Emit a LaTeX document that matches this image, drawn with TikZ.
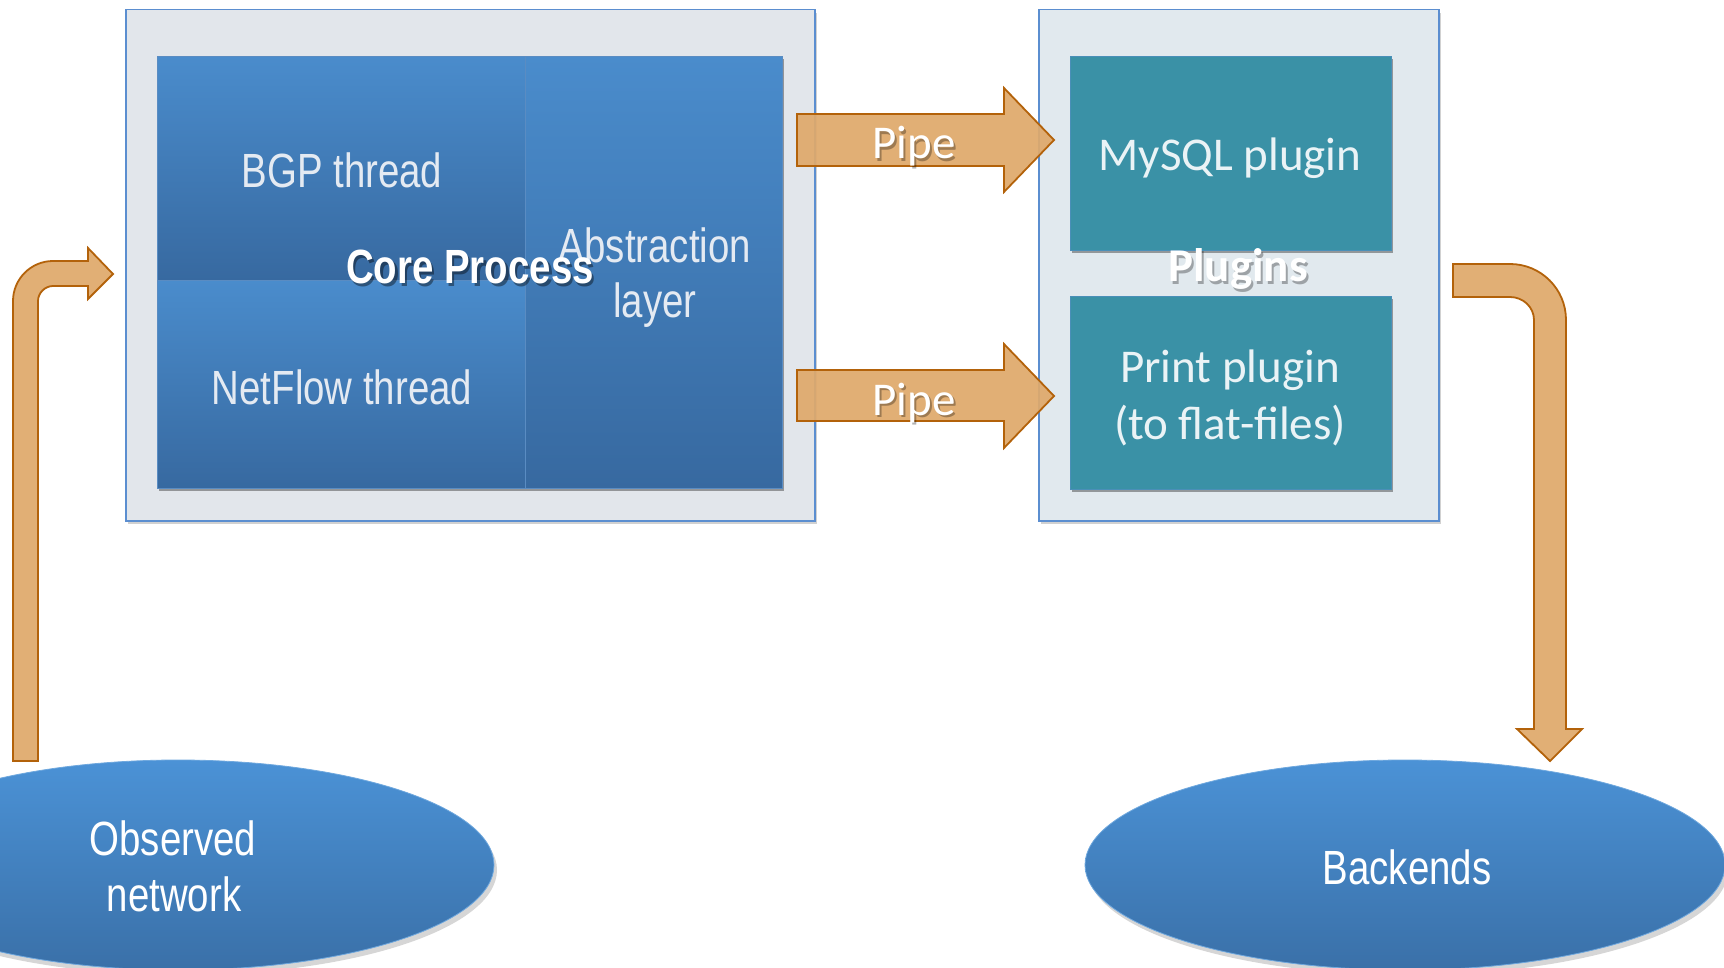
\documentclass[tikz,border=0pt]{standalone}
\usepackage{fontspec}
\setmainfont{Liberation Sans}
\newfontfamily\narrowfont[FakeStretch=0.80]{Liberation Sans}
\newfontfamily\califont{Carlito}
\usetikzlibrary{shapes.geometric,shadows}
\definecolor{coreBg}{HTML}{E2E6EB}
\definecolor{plugBg}{HTML}{E1E9EE}
\definecolor{boxLine}{HTML}{5B8ED0}
\definecolor{cellTop}{HTML}{4A8CCC}
\definecolor{cellBot}{HTML}{3769A0}
\definecolor{cellLine}{HTML}{5A8CC2}
\definecolor{tealFill}{HTML}{3A91A6}
\definecolor{tealLine}{HTML}{4A8FB8}
\definecolor{arrowFill}{HTML}{DFA96B}
\definecolor{arrowLine}{HTML}{B3620A}
\definecolor{ellTop}{HTML}{4B92D6}
\definecolor{ellBot}{HTML}{3A70A8}
\definecolor{cellText}{HTML}{E4EAF2}
\definecolor{plugText}{HTML}{EAF3F6}
\begin{document}
\begin{tikzpicture}[x=1pt,y=-1pt,
  outerbox/.style={rectangle, draw=boxLine, line width=1.5pt, inner sep=0pt, anchor=north west,
    drop shadow={shadow xshift=2pt, shadow yshift=-3pt, opacity=0.18, fill=black}},
  cell/.style={rectangle, draw=cellLine, line width=0.8pt, top color=cellTop, bottom color=cellBot,
    inner sep=0pt, anchor=north west,
    drop shadow={shadow xshift=2pt, shadow yshift=-3pt, opacity=0.35, fill=black}},
  plugbox/.style={rectangle, fill=tealFill, draw=tealLine, line width=0.8pt, inner sep=0pt, anchor=north west,
    drop shadow={shadow xshift=2pt, shadow yshift=-3pt, opacity=0.35, fill=black}},
  ell/.style={ellipse, top color=ellTop, bottom color=ellBot, draw=ellTop!80!white, line width=0.8pt,
    inner sep=0pt, drop shadow={shadow xshift=3pt, shadow yshift=-5pt, opacity=0.16, fill=black}},
  blockarrow/.style={fill=arrowFill, draw=arrowLine, line width=1.8pt, line join=miter, fill opacity=0.93},
  narrowlbl/.style={text=cellText, anchor=base, inner sep=0pt, font=\narrowfont\fontsize{48}{56}\selectfont},
  ellbl/.style={text=white, anchor=base, inner sep=0pt, font=\narrowfont\fontsize{48}{56}\selectfont},
  calbl/.style={text=plugText, anchor=base, inner sep=0pt, font=\califont\fontsize{47}{56}\selectfont},
  pipelbl/.style={text=white, anchor=base, inner sep=0pt, font=\califont\fontsize{47}{56}\selectfont},
  shadowlbl/.style={text=black, opacity=0.4, anchor=base, inner sep=0pt}
]
\useasboundingbox (0,0) rectangle (1724,968);
\clip (0,0) rectangle (1724,968);

% outer boxes
\node[outerbox, fill=coreBg, minimum width=689pt, minimum height=511pt] (core) at (125,9) {};
\node[outerbox, fill=plugBg, minimum width=400pt, minimum height=511pt] (plugins) at (1038,9) {};

% core cells
\node[cell, minimum width=368pt, minimum height=224pt] (bgp) at (157,56) {};
\node[cell, minimum width=368pt, minimum height=208pt] (netflow) at (157,280) {};
\node[cell, minimum width=257pt, minimum height=432pt] (abstr) at (525,56) {};

\node[narrowlbl] (bgptxt) at (342,188) {BGP thread};
\node[narrowlbl] (nftxt) at (342,404) {NetFlow thread};
\node[narrowlbl] (abtxt1) at (655,263) {Abstraction};
\node[narrowlbl] (abtxt2) at (655,318) {layer};

\node[shadowlbl, font=\narrowfont\bfseries\fontsize{48}{56}\selectfont] (coreshadow) at (472.5,287) {Core Process};
\node[anchor=base, inner sep=0pt, text=white, font=\narrowfont\bfseries\fontsize{48}{56}\selectfont] (coretxt) at (470,284) {Core Process};

% plugin boxes
\node[plugbox, minimum width=321pt, minimum height=194pt] (mysql) at (1070,56) {};
\node[plugbox, minimum width=321pt, minimum height=193pt] (print) at (1070,296) {};

\node[calbl] (mysqltxt) at (1230,171) {MySQL plugin};
\node[calbl] (printtxt1) at (1230,382) {Print plugin};
\node[calbl] (printtxt2) at (1230,439) {(to flat-files)};

\node[shadowlbl, opacity=0.3, font=\califont\bfseries\fontsize{47}{56}\selectfont] (plugshadow) at (1240,285) {Plugins};
\node[anchor=base, inner sep=0pt, text=white, font=\califont\bfseries\fontsize{47}{56}\selectfont] (plugtxt) at (1238,282) {Plugins};

% pipe arrows
\draw[blockarrow] (797,114) -- (1004,114) -- (1004,88) -- (1054,140) -- (1004,192) -- (1004,166) -- (797,166) -- cycle;
\draw[blockarrow] (797,370) -- (1004,370) -- (1004,344) -- (1054,396) -- (1004,448) -- (1004,421) -- (797,421) -- cycle;
\node[shadowlbl, opacity=0.3, font=\califont\fontsize{47}{56}\selectfont] (pipe1s) at (916,161.5) {Pipe};
\node[pipelbl] (pipe1) at (914,159) {Pipe};
\node[shadowlbl, opacity=0.3, font=\califont\fontsize{47}{56}\selectfont] (pipe2s) at (916,417.5) {Pipe};
\node[pipelbl] (pipe2) at (914,415) {Pipe};

% left bent arrow (observed network -> core)
\draw[blockarrow] (13,761) -- (13,301) .. controls (13,279) and (31,261) .. (53,261)
  -- (88,261) -- (88,248) -- (113,274) -- (88,299) -- (88,286) -- (53,286)
  .. controls (45,286) and (38,293) .. (38,301) -- (38,761) -- cycle;

% right bent arrow (plugins -> backends)
\draw[blockarrow] (1453,264) -- (1510,264) .. controls (1541,264) and (1566,289) .. (1566,320)
  -- (1566,729) -- (1582,729) -- (1550,761) -- (1517,729) -- (1534,729) -- (1534,320)
  .. controls (1534,307) and (1523,297) .. (1510,297) -- (1453,297) -- cycle;

% ellipses
\node[ell, minimum width=632pt, minimum height=210pt] (observed) at (178,865) {};
\node[ellbl] (obstxt1) at (173,855) {Observed};
\node[ellbl] (obstxt2) at (174,911) {network};

\node[ell, minimum width=640pt, minimum height=210pt] (backends) at (1405,865) {};
\node[ellbl] (backtxt) at (1407,884) {Backends};
\end{tikzpicture}
\end{document}
